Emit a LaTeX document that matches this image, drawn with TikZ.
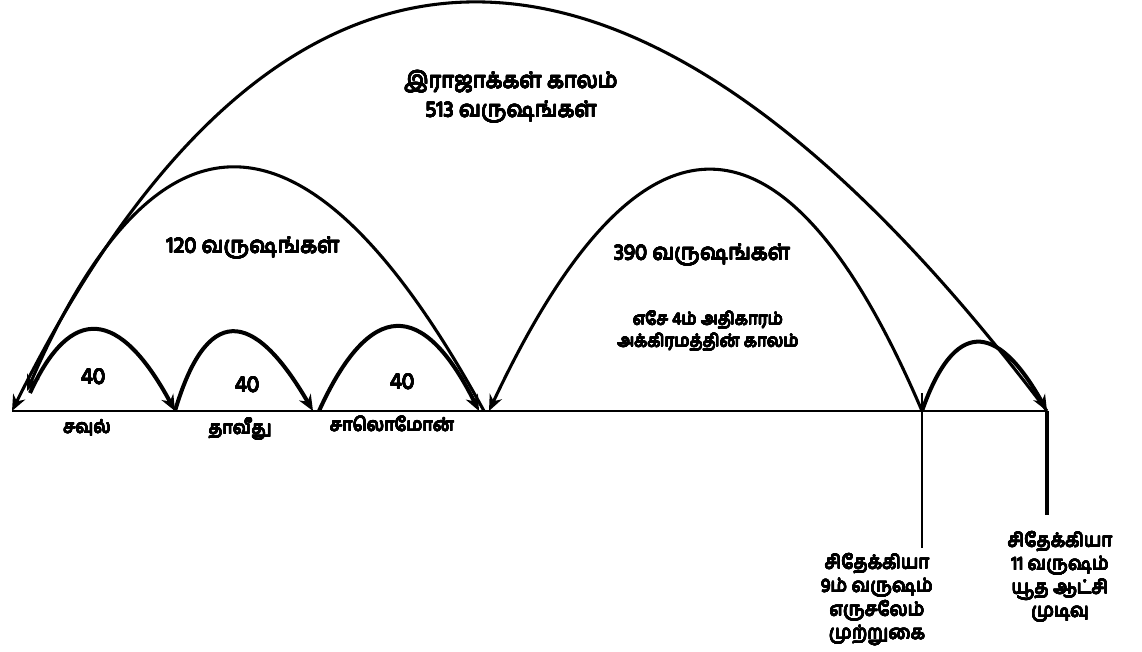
\documentclass[tikz,border=0pt]{standalone}
\usepackage{fontspec}
\usepackage{contour}
\newfontfamily\tamilfont[Script=Tamil]{Hind Madurai}
\usetikzlibrary{arrows.meta, positioning}
\contourlength{0.32pt}
\contournumber{16}
\newcommand{\heavy}[1]{\contour{black}{#1}}

\begin{document}
\begin{tikzpicture}[
  x=0.75pt, y=-0.75pt,
  span/.style={line width=2.3pt, -{Stealth[length=12pt, width=10pt]}},
  hop/.style={line width=3pt, -{Stealth[length=12pt, width=10pt]}},
  yrs/.style={font=\tamilfont\fontsize{16.5}{21.75}\selectfont, align=center},
  note/.style={font=\tamilfont\fontsize{12.8}{16.5}\selectfont, align=center},
  forty/.style={font=\tamilfont\fontsize{17}{20}\selectfont},
  king/.style={font=\tamilfont\fontsize{13.5}{17}\selectfont, anchor=base},
  event/.style={font=\tamilfont\fontsize{14}{17.6}\selectfont, align=center, anchor=north},
]
\useasboundingbox (0,0) rectangle (1142,652);

% Points on the time line
\coordinate (start) at (12,411);
\coordinate (startB) at (27,391);
\coordinate (saulStart) at (30,393);
\coordinate (saulEnd) at (175,411);
\coordinate (davidEnd) at (313,411);
\coordinate (solStart) at (319,411);
\coordinate (solEnd) at (479,411);
\coordinate (split) at (484,411);
\coordinate (exileEnd) at (489,411);
\coordinate (nine) at (922,411);
\coordinate (nineTop) at (922,393);
\coordinate (eleven) at (1047,411);
\coordinate (nineFoot) at (922,548);
\coordinate (elevenFoot) at (1047,515);

% Time line and the two markers
\draw[line width=1pt] (start) -- (eleven);
\draw[line width=1.5pt] (nineTop) -- (nineFoot);
\draw[line width=3pt] (eleven) -- (elevenFoot);

% Big spans
\draw[span] (eleven) .. controls (637,-133) and (283,-133) .. (start);
\draw[span] (split) .. controls (311,94) and (159,87) .. (startB);
\draw[span] (nine) .. controls (785,90) and (640,90) .. (exileEnd);

% Reigns of forty years
\draw[hop] (saulStart) .. controls (71,303) and (120,309) .. (saulEnd);
\draw[hop] (saulEnd) .. controls (206,306) and (252,306) .. (davidEnd);
\draw[hop] (solStart) .. controls (370,299) and (423,299) .. (solEnd);
\draw[hop] (nine) .. controls (954,320) and (996,320) .. (eleven);

% Labels
\node[yrs] (kings) at (511,97) {\heavy{இராஜாக்கள் காலம்}\\\heavy{513 வருஷங்கள்}};
\node[yrs] (yrs120) at (253,248) {\heavy{120 வருஷங்கள்}};
\node[yrs] (yrs390) at (702,255) {\heavy{390 வருஷங்கள்}};
\node[note] (ezek) at (708,331) {\heavy{எசே 4ம் அதிகாரம்}\\\heavy{அக்கிரமத்தின் காலம்}};
\node[forty] (saulYrs) at (93,377) {\heavy{40}};
\node[forty] (davidYrs) at (247,385) {\heavy{40}};
\node[forty] (solYrs) at (402,382) {\heavy{40}};
\node[king] (saul) at (87,433) {\heavy{சவுல்}};
\node[king] (david) at (240,434) {\heavy{தாவீது}};
\node[king] (solomon) at (392,431) {\heavy{சாலொமோன்}};
\node[event] (siege) at (877,549) {\heavy{சிதேக்கியா}\\\heavy{9ம் வருஷம்}\\\heavy{எருசலேம்}\\\heavy{முற்றுகை}};
\node[event] (fall) at (1060,527) {\heavy{சிதேக்கியா}\\\heavy{11 வருஷம்}\\\heavy{யூத ஆட்சி}\\\heavy{முடிவு}};

\end{tikzpicture}
\end{document}
